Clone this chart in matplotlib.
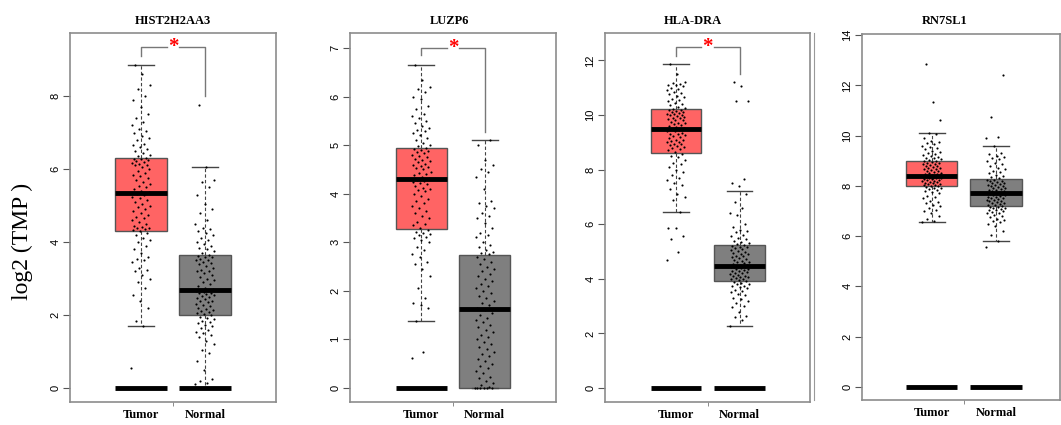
import numpy as np
import matplotlib
matplotlib.use("Agg")
import matplotlib.pyplot as plt
from matplotlib.lines import Line2D

# genes and groups
genes = ["HIST2H2AA3", "LUZP6", "HLA-DRA", "RN7SL1"]
groups = ["Tumor", "Normal"]

# box stats: (whisker low, q1, median, q3, whisker high)
tumor_stats = [(1.7, 4.3, 5.35, 6.3, 8.85),
               (1.38, 3.28, 4.3, 4.95, 6.65),
               (6.45, 8.62, 9.5, 10.2, 11.88),
               (6.58, 8.0, 8.4, 9.0, 10.1)]
normal_stats = [(0.0, 2.0, 2.7, 3.65, 6.05),
                (0.0, 0.0, 1.62, 2.73, 5.1),
                (2.28, 3.93, 4.48, 5.25, 7.2),
                (5.82, 7.2, 7.7, 8.27, 9.58)]

# which groups show the thick bar at zero
zero_bar_tumor = [True, True, True, True]
zero_bar_normal = [True, False, True, True]

# significance bracket (top, left end, right end); None = not significant
brackets = [(9.35, 9.1, 8.0), (7.0, 6.85, 5.27), (12.5, 12.15, 11.5), None]

# sample values (estimated from the dots)
hist_tumor = [0.55, 1.7, 1.85, 2.2, 2.4, 2.55, 2.75, 2.9, 3.0, 3.1, 3.2, 3.25, 3.3, 3.45, 3.5, 3.55, 3.6, 3.7, 3.8,
              3.9, 4.0, 4.05, 4.1, 4.2, 4.25, 4.3, 4.32, 4.35, 4.38, 4.4, 4.42, 4.45, 4.5, 4.55, 4.6, 4.65, 4.7,
              4.75, 4.8, 4.85, 4.9, 4.95, 5.0, 5.05, 5.1, 5.15, 5.2, 5.25, 5.3, 5.33, 5.36, 5.4, 5.45, 5.5, 5.55,
              5.6, 5.65, 5.7, 5.75, 5.8, 5.85, 5.9, 5.95, 6.0, 6.05, 6.1, 6.12, 6.15, 6.18, 6.2, 6.22, 6.25, 6.27,
              6.28, 6.3, 6.35, 6.4, 6.45, 6.5, 6.55, 6.6, 6.65, 6.7, 6.8, 6.85, 6.9, 7.0, 7.05, 7.1, 7.2, 7.3,
              7.4, 7.5, 7.7, 7.9, 8.0, 8.2, 8.3, 8.6, 8.85]
hist_normal = [0.12, 0.15, 0.2, 0.25, 0.5, 0.75, 0.95, 1.05, 1.2, 1.3, 1.4, 1.45, 1.5, 1.55, 1.6, 1.65, 1.7, 1.72,
               1.78, 1.82, 1.85, 1.9, 1.93, 1.96, 1.99, 2.02, 2.05, 2.08, 2.1, 2.15, 2.18, 2.2, 2.25, 2.28, 2.3,
               2.35, 2.38, 2.4, 2.45, 2.48, 2.5, 2.52, 2.55, 2.58, 2.6, 2.62, 2.64, 2.66, 2.68, 2.7, 2.72, 2.75,
               2.8, 2.85, 2.9, 2.95, 3.0, 3.05, 3.1, 3.15, 3.2, 3.22, 3.25, 3.3, 3.35, 3.4, 3.42, 3.45, 3.5, 3.52,
               3.55, 3.58, 3.6, 3.62, 3.65, 3.7, 3.75, 3.8, 3.85, 3.9, 3.95, 4.0, 4.05, 4.1, 4.2, 4.25, 4.3, 4.35,
               4.4, 4.5, 4.6, 4.8, 4.9, 5.05, 5.3, 5.5, 5.65, 5.7, 6.05, 7.75]
luzp6_tumor = [0.62, 0.75, 1.38, 1.65, 1.7, 1.75, 1.85, 2.05, 2.3, 2.45, 2.55, 2.6, 2.7, 2.75, 2.85, 2.9, 3.0, 3.05,
               3.08, 3.1, 3.15, 3.18, 3.2, 3.22, 3.26, 3.3, 3.35, 3.38, 3.42, 3.5, 3.55, 3.6, 3.65, 3.7, 3.75, 3.8,
               3.85, 3.9, 3.95, 4.0, 4.05, 4.08, 4.1, 4.12, 4.15, 4.2, 4.22, 4.25, 4.27, 4.29, 4.32, 4.35, 4.38,
               4.4, 4.42, 4.45, 4.5, 4.52, 4.55, 4.58, 4.6, 4.62, 4.65, 4.68, 4.7, 4.72, 4.75, 4.78, 4.8, 4.83,
               4.85, 4.87, 4.9, 4.92, 4.94, 4.98, 5.0, 5.05, 5.1, 5.15, 5.2, 5.25, 5.3, 5.32, 5.35, 5.4, 5.45,
               5.5, 5.55, 5.6, 5.65, 5.75, 5.8, 5.95, 6.0, 6.1, 6.15, 6.2, 6.35, 6.65]
luzp6_normal = [0, 0, 0, 0, 0, 0, 0.02, 0.05, 0.1, 0.15, 0.2, 0.22, 0.3, 0.35, 0.4, 0.45, 0.5, 0.55, 0.6, 0.65, 0.7,
                0.75, 0.8, 0.85, 0.9, 0.95, 1.0, 1.05, 1.1, 1.15, 1.2, 1.25, 1.3, 1.35, 1.4, 1.45, 1.5, 1.55, 1.6,
                1.65, 1.7, 1.75, 1.8, 1.85, 1.9, 1.95, 2.0, 2.05, 2.1, 2.15, 2.2, 2.25, 2.3, 2.35, 2.4, 2.45, 2.5,
                2.55, 2.6, 2.65, 2.7, 2.75, 2.78, 2.8, 2.85, 2.9, 2.95, 3.0, 3.1, 3.15, 3.2, 3.3, 3.4, 3.5, 3.55,
                3.6, 3.7, 3.75, 3.8, 3.85, 4.1, 4.35, 4.45, 4.5, 4.6, 4.7, 5.0, 5.1]
hla_tumor = [4.68, 5.0, 5.45, 5.55, 5.85, 5.87, 6.45, 6.9, 7.0, 7.1, 7.3, 7.45, 7.5, 7.6, 7.7, 7.8, 7.9, 8.0, 8.1,
             8.2, 8.25, 8.35, 8.45, 8.5, 8.58, 8.65, 8.7, 8.75, 8.8, 8.82, 8.85, 8.9, 8.92, 8.95, 9.0, 9.02, 9.05,
             9.08, 9.1, 9.15, 9.2, 9.22, 9.25, 9.3, 9.32, 9.35, 9.4, 9.42, 9.45, 9.48, 9.52, 9.55, 9.6, 9.62,
             9.65, 9.7, 9.72, 9.75, 9.8, 9.82, 9.85, 9.88, 9.9, 9.92, 9.95, 9.98, 10.0, 10.02, 10.05, 10.08,
             10.1, 10.12, 10.15, 10.17, 10.19, 10.22, 10.25, 10.3, 10.35, 10.4, 10.45, 10.5, 10.55, 10.6, 10.65,
             10.7, 10.75, 10.8, 10.85, 10.9, 10.95, 11.0, 11.05, 11.08, 11.1, 11.15, 11.18, 11.2, 11.5, 11.88]
hla_normal = [2.28, 2.5, 2.6, 2.65, 2.8, 2.95, 3.0, 3.1, 3.2, 3.25, 3.3, 3.4, 3.45, 3.5, 3.55, 3.6, 3.65, 3.7, 3.72,
              3.75, 3.8, 3.82, 3.85, 3.88, 3.91, 3.95, 3.98, 4.0, 4.02, 4.05, 4.08, 4.1, 4.12, 4.15, 4.18, 4.2,
              4.22, 4.25, 4.28, 4.3, 4.32, 4.35, 4.37, 4.4, 4.42, 4.43, 4.44, 4.45, 4.46, 4.47, 4.5, 4.52, 4.55,
              4.58, 4.6, 4.62, 4.65, 4.7, 4.72, 4.75, 4.8, 4.82, 4.85, 4.9, 4.92, 4.95, 5.0, 5.02, 5.05, 5.1,
              5.12, 5.15, 5.18, 5.2, 5.23, 5.28, 5.3, 5.35, 5.4, 5.45, 5.5, 5.55, 5.6, 5.7, 5.75, 5.8, 5.9, 6.0,
              6.35, 6.4, 6.6, 6.8, 7.1, 7.4, 7.5, 7.65, 10.5, 10.5, 11.05, 11.2]
rn7_tumor = [6.58, 6.62, 6.7, 6.8, 6.9, 7.0, 7.05, 7.1, 7.2, 7.25, 7.3, 7.35, 7.4, 7.5, 7.55, 7.6, 7.7, 7.75, 7.8,
             7.85, 7.88, 7.9, 7.93, 7.95, 7.98, 8.0, 8.02, 8.04, 8.06, 8.08, 8.1, 8.12, 8.14, 8.16, 8.18, 8.2,
             8.22, 8.24, 8.26, 8.28, 8.3, 8.31, 8.32, 8.33, 8.34, 8.35, 8.36, 8.37, 8.38, 8.39, 8.42, 8.44, 8.46,
             8.48, 8.5, 8.52, 8.55, 8.58, 8.6, 8.62, 8.65, 8.68, 8.7, 8.72, 8.75, 8.78, 8.8, 8.82, 8.85, 8.88,
             8.9, 8.92, 8.95, 8.97, 8.99, 9.02, 9.05, 9.1, 9.12, 9.15, 9.2, 9.22, 9.25, 9.3, 9.35, 9.4, 9.45,
             9.5, 9.55, 9.6, 9.65, 9.7, 9.75, 9.8, 9.9, 10.05, 10.1, 10.6, 11.35, 12.85]
rn7_normal = [5.55, 5.82, 6.05, 6.2, 6.4, 6.5, 6.55, 6.6, 6.65, 6.7, 6.75, 6.8, 6.85, 6.9, 6.92, 6.95, 7.0, 7.02,
              7.05, 7.08, 7.1, 7.12, 7.15, 7.17, 7.19, 7.22, 7.25, 7.28, 7.3, 7.32, 7.35, 7.38, 7.4, 7.42, 7.45,
              7.48, 7.5, 7.52, 7.55, 7.57, 7.6, 7.62, 7.64, 7.66, 7.68, 7.69, 7.7, 7.72, 7.75, 7.78, 7.8, 7.82,
              7.85, 7.88, 7.9, 7.92, 7.95, 7.98, 8.0, 8.02, 8.05, 8.08, 8.1, 8.12, 8.15, 8.18, 8.2, 8.22, 8.25,
              8.3, 8.35, 8.4, 8.45, 8.5, 8.55, 8.6, 8.65, 8.7, 8.8, 8.85, 8.9, 9.0, 9.05, 9.1, 9.15, 9.2, 9.25,
              9.3, 9.58, 9.92, 9.95, 10.75, 12.4]

tumor_values = [hist_tumor, luzp6_tumor, hla_tumor, rn7_tumor]
normal_values = [hist_normal, luzp6_normal, hla_normal, rn7_normal]

y_ticks = [[0, 2, 4, 6, 8], list(range(8)), [0, 2, 4, 6, 8, 10, 12], list(range(0, 15, 2))]

# layout (pixels of the 1061x425 picture)
W, H = 1061, 425
axes_px = [(70, 33, 276, 402), (350, 33, 556, 402), (605, 33, 810, 402), (862, 34, 1060, 400)]
ylims = [(-0.38, 9.73), (-0.29, 7.31), (-0.51, 13.0), (-0.52, 14.04)]
xlims = [(-0.11, 3.11), (-0.12, 3.12), (-0.12, 3.11), (-0.09, 3.0)]
title_x = [173, 449, 693, 945]

tumor_col = "#FF6464"
normal_col = "#7F7F7F"
serif = "Liberation Serif"
sans = "Liberation Sans"

fig = plt.figure(figsize=(W / 100, H / 100), dpi=100)

for i in range(4):
    l, t, r, b = axes_px[i]
    ax = fig.add_axes([l / W, 1 - b / H, (r - l) / W, (b - t) / H])

    stats = []
    for s, lab in zip([tumor_stats[i], normal_stats[i]], groups):
        stats.append(dict(whislo=s[0], q1=s[1], med=s[2], q3=s[3], whishi=s[4], label=lab))
    bp = ax.bxp(stats, positions=[1, 2], widths=0.8, patch_artist=True, showfliers=False,
                boxprops=dict(edgecolor="#555555", linewidth=1.0),
                medianprops=dict(color="black", linewidth=3.5, solid_capstyle="butt"),
                whiskerprops=dict(color="#444444", linewidth=0.8, linestyle=(0, (3, 2))),
                capprops=dict(color="#444444", linewidth=1.0))
    for patch, c in zip(bp["boxes"], [tumor_col, normal_col]):
        patch.set_facecolor(c)

    # thick bars at zero
    for pos, flag in zip([1, 2], [zero_bar_tumor[i], zero_bar_normal[i]]):
        if flag:
            ax.hlines(0, pos - 0.4, pos + 0.4, color="black", linewidth=3.5, zorder=4)

    # jittered dots
    for pos, vals in zip([1, 2], [tumor_values[i], normal_values[i]]):
        vals = np.array(vals)
        n = len(vals)
        jit = ((np.arange(n) * 0.618034) % 1 - 0.5) * 0.3
        ax.scatter(pos + jit, vals, s=2.4, color="black", linewidths=0, zorder=5)

    # significance bracket
    br = brackets[i]
    if br is not None:
        top, lend, rend = br
        kw = dict(color="#777777", linewidth=1.0, zorder=3)
        ax.plot([1, 1, 1.4], [lend, top, top], **kw)
        ax.plot([1.6, 2, 2], [top, top, rend], **kw)
        ax.text(1.5, top, "*", color="red", ha="center", va="center", fontsize=15,
                fontweight="bold", family=serif)

    ax.set_xlim(xlims[i])
    ax.set_ylim(ylims[i])
    ax.set_yticks(y_ticks[i])
    ax.tick_params(axis="y", labelrotation=90, labelsize=8, length=5, width=0.8, color="#555555", pad=2)
    for lab in ax.get_yticklabels():
        lab.set_family(sans)
        lab.set_va("center")
    ax.set_xticks([1, 2])
    ax.set_xticklabels(groups, fontsize=9, fontweight="bold", family=serif)
    ax.tick_params(axis="x", length=0, pad=5)
    ax.set_xticks([1.5], minor=True)
    ax.tick_params(axis="x", which="minor", length=3, color="#777777")
    for sp in ax.spines.values():
        sp.set_color("#8C8C8C")
        sp.set_linewidth(1.2)

    fig.text(title_x[i] / W, 1 - 21 / H, genes[i], ha="center", va="center", fontsize=9,
             fontweight="bold", family=serif)

fig.text(22 / W, 1 - 241 / H, "log2 (TMP )", rotation=90, ha="center", va="center",
         fontsize=17, family=serif)

# separator between the third and fourth picture
fig.add_artist(Line2D([814 / W, 814 / W], [1 - 33 / H, 1 - 400 / H], color="#999999", linewidth=0.8))

fig.savefig("out.png", dpi=100)
